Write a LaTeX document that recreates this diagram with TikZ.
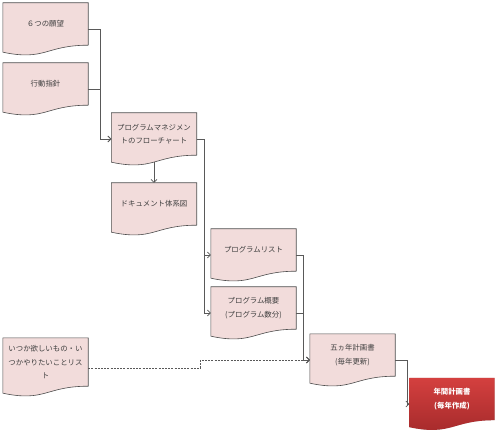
\documentclass[tikz,border=0pt]{standalone}
\usepackage{fontspec}
\newfontfamily\jpfont{Noto Sans CJK JP}
\usetikzlibrary{arrows.meta,backgrounds}
\definecolor{docpink}{HTML}{F2DCDB}
\definecolor{docline}{HTML}{4D4D4D}
\definecolor{linkgray}{HTML}{595959}
\definecolor{textgray}{HTML}{3F3F3F}
\definecolor{redtop}{HTML}{D4403F}
\definecolor{redbot}{HTML}{A3292A}
\tikzset{
    docbox/.style={minimum width=85pt,minimum height=42pt,inner sep=0pt,align=center,
        text=textgray,font=\jpfont\fontsize{7.4}{13.5}\selectfont},
    link/.style={linkgray,line width=0.6pt,-{Straight Barb[length=3pt,width=6pt]}},
}
\begin{document}
\begin{tikzpicture}[x=1pt,y=-1pt]
    \useasboundingbox (0,0) rectangle (500,435);
    \node[docbox] (wish) at (45.5,24) {６つの願望};
    \node[docbox] (policy) at (45.5,84) {行動指針};
    \node[docbox] (flow) at (154,134) {プログラムマネジメン\\トのフローチャート};
    \node[docbox] (docmap) at (154,204) {ドキュメント体系図};
    \node[docbox] (proglist) at (253.5,250) {プログラムリスト};
    \node[docbox] (progsum) at (253.5,308) {プログラム概要\\(プログラム数分)};
    \node[docbox] (fiveyear) at (352.5,355) {五ヵ年計画書\\(毎年更新)};
    \node[docbox,minimum height=48pt] (someday) at (45.5,362) {いつか欲しいもの・い\\つかやりたいことリス\\ト};
    \node[docbox,text=white,font=\jpfont\bfseries\fontsize{7.4}{13.5}\selectfont] (annual) at (452,399) {年間計画書\\(毎年作成)};
    % document shapes
    \begin{scope}[on background layer]
        \foreach \n in {wish,policy,flow,docmap,proglist,progsum,fiveyear,someday} {
            \filldraw[fill=docpink,draw=docline,line width=0.6pt] (\n.north west) -- (\n.north east) -- (\n.south east)
                .. controls (\n.south) and ([yshift=-16pt]\n.south) .. ([yshift=-7pt]\n.south west) -- cycle;
        }
        \fill[black!25,xshift=1pt,yshift=-1.5pt] (annual.north west) -- (annual.north east) -- (annual.south east)
            .. controls (annual.south) and ([yshift=-16pt]annual.south) .. ([yshift=-7pt]annual.south west) -- cycle;
        \shade[top color=redtop,bottom color=redbot] (annual.north west) -- (annual.north east) -- (annual.south east)
            .. controls (annual.south) and ([yshift=-16pt]annual.south) .. ([yshift=-7pt]annual.south west) -- cycle;
    \end{scope}
    % connectors
    \draw[link] ([yshift=-5pt]wish.east) -- ++(12,0) |- ([yshift=-5pt]flow.west);
    \draw[link] ([yshift=-5pt]policy.east) -- ++(12,0) |- ([yshift=-5pt]flow.west);
    \draw[link] ([yshift=-7pt]flow.south) -- (docmap.north);
    \draw[link] ([yshift=-5pt]flow.east) -- ++(7.5,0) |- ([yshift=-5pt]proglist.west);
    \draw[link] ([yshift=-5pt]flow.east) -- ++(7.5,0) |- ([yshift=-5pt]progsum.west);
    \draw[link] ([yshift=-5pt]proglist.east) -- ++(7,0) |- ([yshift=-5pt]fiveyear.west);
    \draw[link] ([yshift=-5pt]progsum.east) -- ++(7,0) |- ([yshift=-5pt]fiveyear.west);
    \draw[link,dash pattern=on 2pt off 1.2pt] ([yshift=-6pt]someday.east) -- ++(112,0) |- ([yshift=-5pt]fiveyear.west);
    \draw[link] ([yshift=-5pt]fiveyear.east) -- ++(12,0) |- ([yshift=-5pt]annual.west);
\end{tikzpicture}
\end{document}
